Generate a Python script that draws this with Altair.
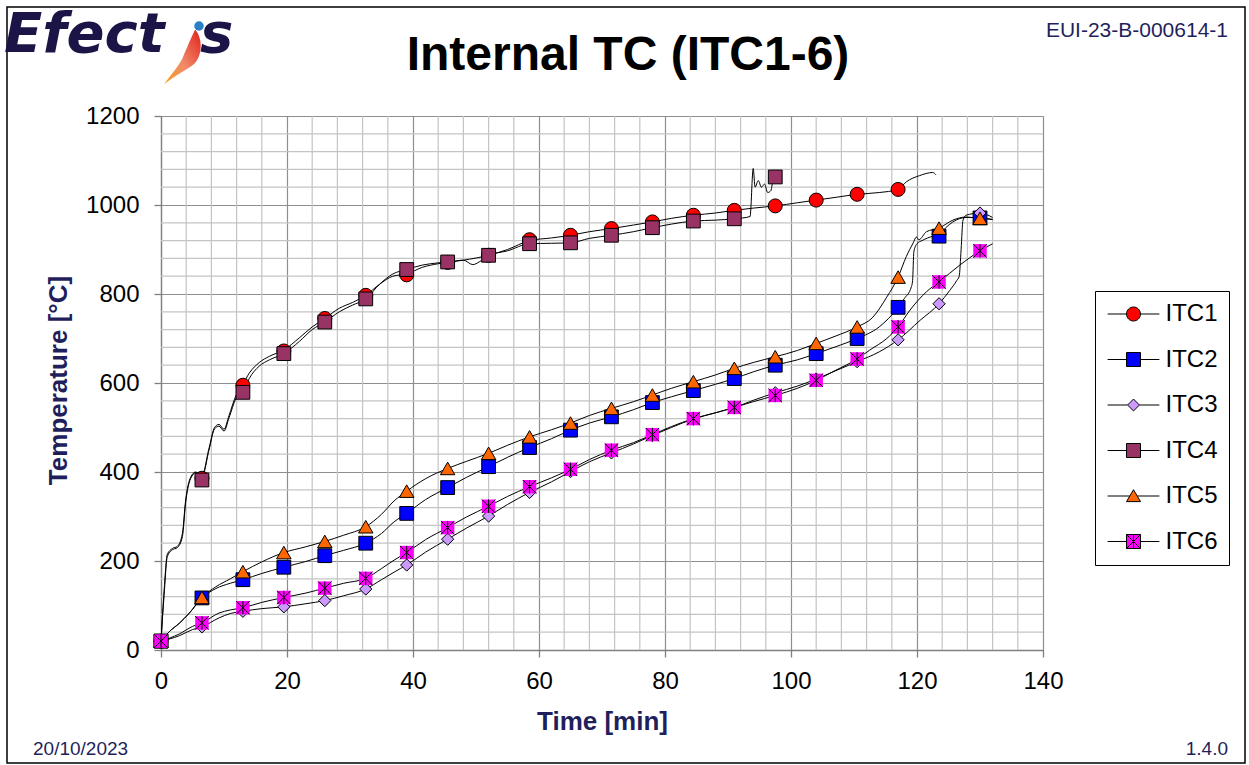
import altair as alt
import pandas as pd

SERIES = ["ITC1", "ITC2", "ITC3", "ITC4", "ITC5", "ITC6"]
COLORS = ["#FF0000", "#0000FF", "#CC99FF", "#993366", "#FF6600", "#FF00FF"]
NAVY = "#1F1F5C"

# marker sample times (min)
T_MARK = [0, 6.5, 13, 19.5, 26, 32.5, 39, 45.5, 52, 58.5, 65, 71.5, 78, 84.5,
          91, 97.5, 104, 110.5, 117, 123.5, 130]

M_ITC1 = [20, 386, 595, 672, 745, 797, 843, 871, 887, 922, 932, 947, 962, 977,
          988, 998, 1011, 1024, 1035]
M_ITC2 = [20, 117, 158, 186, 212, 240, 307, 365, 412, 455, 494, 524, 556, 583,
          610, 640, 666, 700, 770, 930, 971]
M_ITC3 = [20, 52, 87, 97, 111, 137, 191, 249, 301, 354, 401, 443, 482, 519,
          545, 578, 609, 648, 697, 778, 982]
M_ITC4 = [20, 382, 579, 666, 737, 789, 855, 872, 887, 913, 915, 932, 949, 964,
          969, 1063]
M_ITC5 = [20, 118, 176, 219, 244, 277, 357, 408, 442, 479, 510, 543, 573, 603,
          633, 659, 689, 726, 838, 948, 970]
M_ITC6 = [20, 61, 95, 118, 139, 161, 219, 275, 323, 367, 406, 449, 484, 520,
          545, 572, 606, 654, 726, 827, 897]

# continuous measured curves
L_ITC1_T = [0, 0.5, 1.0, 1.8, 2.6, 3.4, 3.9, 4.7, 5.5, 6.5, 7.6, 8.5, 9.2, 10.0,
            10.8, 11.9, 13, 14, 15.6, 17.2, 19.5, 22, 24, 26, 28.3, 30.4, 32.5,
            34.7, 36.8, 39, 41.5, 44, 45.5, 48, 52, 55, 58.5, 62, 65, 68, 71.5,
            75, 78, 81, 84.5, 88, 91, 94, 97.5, 101, 104, 107, 110.5, 114, 117,
            118.3, 120.4, 122.5, 123]
L_ITC1_V = [20, 135, 215, 228, 233, 262, 335, 388, 400, 392, 452, 500, 507, 496,
            527, 572, 597, 622, 646, 660, 674, 702, 726, 745, 768, 781, 797,
            822, 840, 845, 860, 868, 871, 876, 887, 900, 920, 926, 932, 940, 947,
            955, 962, 970, 977, 982, 988, 993, 998, 1005, 1011, 1017, 1024, 1028,
            1035, 1052, 1066, 1073, 1068]

L_ITC4_T = [0, 0.5, 1.0, 1.8, 2.6, 3.4, 3.9, 4.7, 5.5, 6.5, 7.6, 8.5, 9.2, 10.0,
            10.8, 11.9, 13, 14, 15.6, 17.2, 19.5, 22, 24, 26, 28.3, 30.4, 32.5,
            34.7, 36.8, 39, 41.5, 44, 45.5, 48, 49.5, 50.5, 52, 55, 58.5, 62, 65,
            68, 71.5, 75, 78, 81, 84.5, 88, 91, 93.5, 94.0, 94.3, 94.8, 95.3,
            95.8, 96.3, 96.8, 97.2, 97.5]
L_ITC4_V = [20, 125, 210, 225, 230, 255, 330, 385, 398, 388, 448, 497, 503, 492,
            522, 565, 580, 610, 638, 652, 666, 694, 720, 737, 760, 775, 789,
            822, 845, 855, 865, 870, 872, 876, 866, 872, 887, 897, 913, 914, 915,
            925, 932, 940, 949, 957, 964, 966, 969, 974, 1082, 1040, 1055, 1040,
            1047, 1028, 1032, 1060, 1063]

L_ITC2_T = [0, 1.3, 2.9, 4.5, 6.5, 8.7, 11, 13, 16, 19.5, 23, 26, 29, 32.5, 35,
            37, 39, 42, 45.5, 48.5, 52, 55, 58.5, 62, 65, 68, 71.5, 75, 78, 81,
            84.5, 88, 91, 94, 97.5, 101, 104, 107, 110.5, 114, 117, 118, 119.1,
            119.3, 119.5, 120, 120.8, 122.6, 123.5, 124.5, 125.7, 127.8, 130, 132]
L_ITC2_V = [20, 41, 60, 83, 117, 138, 150, 158, 172, 186, 199, 212, 224, 240, 262,
            288, 307, 338, 365, 388, 412, 433, 455, 475, 494, 510, 524, 540, 556,
            569, 583, 597, 610, 625, 640, 652, 666, 681, 700, 726, 770, 790, 816,
            830, 895, 913, 920, 930, 932, 948, 962, 972, 971, 967]

L_ITC5_T = [0, 1.3, 2.9, 4.5, 6.5, 8.7, 11, 13, 16, 19.5, 23, 26, 29, 32.5, 35,
            37, 39, 42, 45.5, 48.5, 52, 55, 58.5, 62, 65, 68, 71.5, 75, 78, 81,
            84.5, 88, 91, 94, 97.5, 101, 104, 107, 110.5, 113, 115.2, 117, 118.3,
            119.4, 119.9, 120.3, 121.5, 123.5, 125.7, 127.8, 130, 132]
L_ITC5_V = [20, 41, 60, 83, 118, 142, 160, 176, 198, 219, 232, 244, 258, 277, 305,
            335, 357, 385, 408, 424, 442, 460, 479, 495, 510, 527, 543, 558, 573,
            588, 603, 618, 633, 646, 659, 673, 689, 705, 726, 748, 793, 838, 884,
            915, 928, 922, 940, 948, 966, 973, 970, 968]

L_ITC3_T = [0, 2.9, 5, 6.5, 9.2, 11, 13, 16, 19.5, 23, 26, 29, 32.5, 35, 37, 39,
            42, 45.5, 48.5, 52, 55, 58.5, 62, 65, 68, 71.5, 75, 78, 81, 84.5, 88,
            91, 94, 97.5, 101, 104, 107, 110.5, 114, 117, 120.5, 123.5, 125.2,
            126.3, 126.7, 127.0, 127.3, 127.8, 130, 132]
L_ITC3_V = [20, 32, 46, 52, 72, 82, 87, 93, 97, 104, 111, 122, 137, 158, 175, 191,
            220, 249, 274, 301, 327, 354, 378, 401, 423, 443, 463, 482, 500, 519,
            533, 545, 561, 578, 593, 609, 627, 648, 670, 697, 741, 778, 808, 830,
            840, 900, 966, 977, 982, 972]

L_ITC6_T = [0, 2.9, 5, 6.5, 9.2, 11, 13, 16, 19.5, 23, 26, 29, 32.5, 35, 37, 39,
            42, 45.5, 48.5, 52, 55, 58.5, 62, 65, 68, 71.5, 75, 78, 81, 84.5, 88,
            91, 94, 97.5, 101, 104, 107, 110.5, 112.5, 115.2, 117, 118.9, 121.5,
            123.5, 126.8, 130, 132]
L_ITC6_V = [20, 36, 53, 61, 83, 90, 95, 107, 118, 128, 139, 150, 161, 183, 202,
            219, 248, 275, 299, 323, 345, 367, 387, 406, 428, 449, 466, 484, 502,
            520, 533, 545, 558, 572, 588, 606, 628, 654, 674, 700, 726, 764, 805,
            827, 865, 897, 913]

X_TICKS = [0, 20, 40, 60, 80, 100, 120, 140]
Y_TICKS = [0, 200, 400, 600, 800, 1000, 1200]
X_MINOR = [v for v in range(0, 141, 4) if v % 20 != 0]
Y_MINOR = [v for v in range(0, 1201, 40) if v % 200 != 0]

# ---------------- data tables ----------------
lines = {
    "ITC1": (L_ITC1_T, L_ITC1_V), "ITC2": (L_ITC2_T, L_ITC2_V),
    "ITC3": (L_ITC3_T, L_ITC3_V), "ITC4": (L_ITC4_T, L_ITC4_V),
    "ITC5": (L_ITC5_T, L_ITC5_V), "ITC6": (L_ITC6_T, L_ITC6_V),
}
marks = {"ITC1": M_ITC1, "ITC2": M_ITC2, "ITC3": M_ITC3,
         "ITC4": M_ITC4, "ITC5": M_ITC5, "ITC6": M_ITC6}

line_rows = []
for s, (ts, vs) in lines.items():
    for t, v in zip(ts, vs):
        line_rows.append({"series": s, "t": t, "v": v})
line_df = pd.DataFrame(line_rows)

mark_rows = []
for s, vs in marks.items():
    for t, v in zip(T_MARK, vs):
        mark_rows.append({"series": s, "t": t, "v": v})
mark_df = pd.DataFrame(mark_rows)

FONT = "Liberation Sans"
W, H = 882, 534
OX, OY = 161, 116  # plot origin inside the page

xs = alt.Scale(domain=[0, 140], nice=False, zero=False)
ys = alt.Scale(domain=[0, 1200], nice=False, zero=False)

x_axis = alt.Axis(values=X_TICKS, title="Time [min]", grid=True, format="d",
                  gridColor="#8E8E8E", gridWidth=1.2,
                  domainColor="#808080", domainWidth=1.3,
                  tickColor="#808080", tickSize=7, tickWidth=1.3,
                  labelFont=FONT, labelFontSize=24, labelColor="black",
                  labelFlush=False, labelOverlap=False,
                  labelBaseline="alphabetic", labelPadding=31,
                  titleFont=FONT, titleFontSize=26, titleFontWeight="bold",
                  titleColor=NAVY, titleX=441, titleY=79,
                  titleBaseline="alphabetic", titleAlign="center")
y_axis = alt.Axis(values=Y_TICKS, title="Temperature [°C]", grid=True, format="d",
                  gridColor="#8E8E8E", gridWidth=1.2,
                  domainColor="#808080", domainWidth=1.3,
                  tickColor="#808080", tickSize=7, tickWidth=1.3,
                  labelFont=FONT, labelFontSize=24, labelColor="black",
                  labelPadding=15, labelOverlap=False,
                  titleFont=FONT, titleFontSize=26, titleFontWeight="bold",
                  titleColor=NAVY, titleX=-95, titleY=264, titleAngle=270,
                  titleBaseline="alphabetic", titleAlign="center")

X = alt.X("t:Q", scale=xs, axis=x_axis)
Y = alt.Y("v:Q", scale=ys, axis=y_axis)

# minor grid
gx = alt.Chart(pd.DataFrame({"t": X_MINOR})).mark_rule(
    color="#C4C4C4", strokeWidth=1.2).encode(x=X)
gy = alt.Chart(pd.DataFrame({"v": Y_MINOR})).mark_rule(
    color="#C4C4C4", strokeWidth=1.2).encode(y=Y)

line_layer = alt.Chart(line_df).mark_line(
    color="black", strokeWidth=1, interpolate="monotone").encode(
    x=X, y=Y, detail="series:N", order="t:Q")

SHAPES = {"ITC1": ("circle", 196), "ITC2": ("square", 190),
          "ITC3": ("diamond", 150), "ITC4": ("square", 190),
          "ITC5": ("triangle-up", 210), "ITC6": ("square", 180)}

marker_layers = []
for s, col in zip(SERIES, COLORS):
    shp, sz = SHAPES[s]
    d = mark_df[mark_df.series == s]
    if s == "ITC6":
        marker_layers.append(alt.Chart(d).mark_point(
            shape="square", size=sz, filled=True, fill=col, strokeWidth=0,
            opacity=1).encode(x=X, y=Y))
        marker_layers.append(alt.Chart(d).mark_point(
            shape="M-1,-1L1,1M1,-1L-1,1M0,-1L0,1", size=sz, filled=False,
            color="black", strokeWidth=1, opacity=1).encode(x=X, y=Y))
    else:
        marker_layers.append(alt.Chart(d).mark_point(
            shape=shp, size=sz, filled=True, fill=col, stroke="black",
            strokeWidth=1, opacity=1).encode(x=X, y=Y))

LEG_PATHS = [
    "M-1,0A1,1,0,1,1,1,0A1,1,0,1,1,-1,0ZM-3.7,0L-1,0M1,0L3.7,0",
    "M-1,-1L1,-1L1,1L-1,1ZM-3.7,0L-1,0M1,0L3.7,0",
    "M0,-0.85L0.85,0L0,0.85L-0.85,0ZM-3.7,0L-0.85,0M0.85,0L3.7,0",
    "M-1,-1L1,-1L1,1L-1,1ZM-3.7,0L-1,0M1,0L3.7,0",
    "M0,-0.9L1,0.8L-1,0.8ZM-3.7,0L-0.53,0M0.53,0L3.7,0",
    "M-1,-1L1,-1L1,1L-1,1ZM-1,-1L1,1M1,-1L-1,1M0,-1L0,1M-3.7,0L-1,0M1,0L3.7,0",
]
leg = alt.Legend(title=None, orient="none", legendX=1095 - OX, legendY=291 - OY,
                 padding=11, strokeColor="black", fillColor="white",
                 labelFont=FONT, labelFontSize=24, labelColor="black",
                 rowPadding=21.5, symbolOffset=15.5, labelOffset=20,
                 symbolSize=196, symbolStrokeColor="black",
                 symbolStrokeWidth=1)
legend_layer = alt.Chart(mark_df).transform_filter("false").mark_point(
    filled=True, size=196, strokeWidth=1, opacity=1).encode(
    x=X, y=Y,
    shape=alt.Shape("series:N", scale=alt.Scale(domain=SERIES, range=LEG_PATHS),
                    legend=leg),
    fill=alt.Fill("series:N", scale=alt.Scale(domain=SERIES, range=COLORS),
                  legend=leg),
    stroke=alt.Stroke("series:N",
                      scale=alt.Scale(domain=SERIES, range=["black"] * 6),
                      legend=leg))

# ---------------- decorations ----------------
one = pd.DataFrame({"k": [0]})
base = alt.Chart(one)

frame = base.mark_rect(fill="transparent", stroke="black", strokeWidth=1.5).encode(
    x=alt.value(7 - OX), x2=alt.value(1245 - OX),
    y=alt.value(7 - OY), y2=alt.value(763 - OY))

title = base.mark_text(text="Internal TC (ITC1-6)", font=FONT, fontSize=48,
                       fontWeight="bold", color="black", align="center",
                       baseline="alphabetic").encode(
    x=alt.value(628 - OX), y=alt.value(70 - OY))

ref = base.mark_text(text="EUI-23-B-000614-1", font=FONT, fontSize=21,
                     color=NAVY, align="right", baseline="alphabetic").encode(
    x=alt.value(1228 - OX), y=alt.value(37 - OY))
date = base.mark_text(text="20/10/2023", font=FONT, fontSize=19, color=NAVY,
                      align="left", baseline="alphabetic").encode(
    x=alt.value(33 - OX), y=alt.value(755 - OY))
ver = base.mark_text(text="1.4.0", font=FONT, fontSize=19, color=NAVY,
                     align="right", baseline="alphabetic").encode(
    x=alt.value(1228 - OX), y=alt.value(755 - OY))

LOGO = "#1B1446"
logo_main = base.mark_text(text="Efect", font="DejaVu Sans", fontSize=56,
                           fontStyle="italic", fontWeight="bold", color=LOGO,
                           align="left", baseline="alphabetic").encode(
    x=alt.value(4 - OX), y=alt.value(52 - OY))
logo_s = base.mark_text(text="s", font="DejaVu Sans", fontSize=56,
                        fontStyle="italic", fontWeight="bold", color=LOGO,
                        align="left", baseline="alphabetic").encode(
    x=alt.value(200 - OX), y=alt.value(52 - OY))
swoosh = base.mark_point(
    shape="M0.46,-0.93C0.75,-0.6 0.7,0.0 0.45,0.25C0.25,0.45 -0.3,0.7 -0.63,1.0"
          "C-0.35,0.6 -0.05,0.3 0.07,-0.05C0.2,-0.35 0.3,-0.6 0.46,-0.93Z",
    size=3249, filled=True, opacity=1, strokeWidth=0,
    fill={"gradient": "linear", "x1": 1, "y1": 0, "x2": 0, "y2": 1,
          "stops": [{"offset": 0, "color": "#E3201B"},
                    {"offset": 0.55, "color": "#F08A6A"},
                    {"offset": 1, "color": "#F7A21B"}]}).encode(
    x=alt.value(182 - OX), y=alt.value(56 - OY))
dot = base.mark_point(shape="circle", size=90, filled=True, opacity=1,
                      fill="#2A80C8", strokeWidth=0).encode(
    x=alt.value(199 - OX), y=alt.value(26 - OY))

chart = alt.layer(
    gx, gy, line_layer, *marker_layers, legend_layer,
    frame, title, ref, date, ver, logo_main, logo_s, swoosh, dot
).properties(
    width=W, height=H,
    padding={"left": OX, "top": OY, "right": 1249 - OX - W, "bottom": 765 - OY - H},
    autosize=alt.AutoSizeParams(type="none"),
    background="white",
).configure_view(strokeWidth=0)

chart.save("out.html", embed_options={"renderer": "svg", "actions": False})
